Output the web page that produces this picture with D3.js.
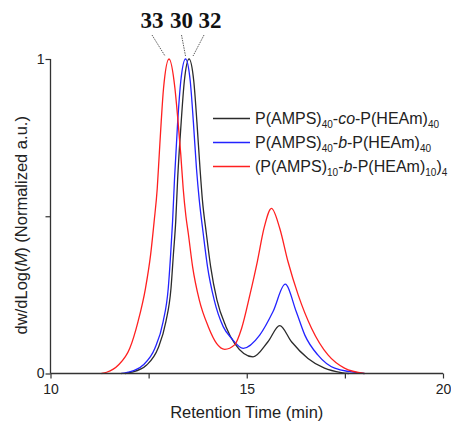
<!DOCTYPE html>
<html>
<head>
<meta charset="utf-8">
<script src="https://cdn.jsdelivr.net/npm/d3@7"></script>
<style>
  body { margin: 0; background: #fff; }
</style>
</head>
<body>
<script>
// retention time (min) and normalized dw/dLog(M)
var redT = [11.3, 11.43, 11.73, 12.02, 12.23, 12.42, 12.55, 12.64, 12.72, 12.77, 12.82, 12.88, 13.02, 13.17, 13.25, 13.32, 13.38, 13.45, 13.51, 13.62, 13.79, 14.02, 14.23, 14.44, 14.69, 14.87, 15.08, 15.27, 15.44, 15.63, 15.84, 16.05, 16.31, 16.65, 17.07, 17.49, 18.0];
var redV = [0, 0.004, 0.027, 0.08, 0.165, 0.271, 0.377, 0.483, 0.589, 0.695, 0.8, 0.907, 1, 0.907, 0.8, 0.695, 0.589, 0.5, 0.446, 0.34, 0.234, 0.149, 0.096, 0.077, 0.091, 0.144, 0.25, 0.356, 0.462, 0.525, 0.462, 0.356, 0.25, 0.144, 0.059, 0.017, 0];

var blueT = [11.8, 11.98, 12.36, 12.66, 12.87, 13.0, 13.06, 13.11, 13.16, 13.24, 13.32, 13.44, 13.56, 13.64, 13.72, 13.79, 13.89, 14.0, 14.17, 14.4, 14.61, 14.91, 15.33, 15.67, 15.98, 16.26, 16.48, 16.81, 17.24, 18.0];
var blueV = [0, 0.004, 0.027, 0.08, 0.165, 0.271, 0.377, 0.483, 0.62, 0.8, 0.93, 1, 0.93, 0.8, 0.65, 0.552, 0.446, 0.34, 0.234, 0.149, 0.112, 0.08, 0.122, 0.197, 0.284, 0.197, 0.122, 0.059, 0.017, 0];

var blackT = [11.9, 12.07, 12.45, 12.74, 12.94, 13.07, 13.13, 13.19, 13.24, 13.33, 13.41, 13.53, 13.65, 13.73, 13.81, 13.87, 13.97, 14.08, 14.24, 14.47, 14.69, 15.16, 15.54, 15.84, 16.14, 16.56, 16.98, 17.41, 17.6];
var blackV = [0, 0.004, 0.027, 0.08, 0.165, 0.271, 0.377, 0.483, 0.62, 0.8, 0.93, 1, 0.93, 0.8, 0.65, 0.552, 0.446, 0.34, 0.234, 0.149, 0.096, 0.053, 0.101, 0.152, 0.101, 0.048, 0.017, 0.003, 0];

var xTicks = [10, 12.5, 15, 17.5, 20];
var yTicks = [0, 0.5, 1];
var peakLabels = ["33", "30", "32"];

var width = 451, height = 423;
var x0 = 50.5, x1 = 443, y0 = 373.5, y1 = 59;
var sans = "Arial, 'Liberation Sans', sans-serif";

var svg = d3.select("body").append("svg")
    .attr("width", width)
    .attr("height", height);

var x = d3.scaleLinear().domain([10, 20]).range([x0, x1]);
var y = d3.scaleLinear().domain([0, 1]).range([y0, y1]);

var line = d3.line()
    .x(function(d){ return x(d[0]); })
    .y(function(d){ return y(d[1]); })
    .curve(d3.curveMonotoneX);

function zip(t, v){
    return t.map(function(d, i){ return [d, v[i]]; });
}

var series = [
    {name: "black", color: "#2b2b2b", data: zip(blackT, blackV)},
    {name: "blue", color: "#2323ff", data: zip(blueT, blueV)},
    {name: "red", color: "#ff2020", data: zip(redT, redV)}
];

series.forEach(function(s){
    svg.append("path")
        .attr("d", line(s.data))
        .attr("fill", "none")
        .attr("stroke", s.color)
        .attr("stroke-width", 1.3);
});

// axes
var xAxis = svg.append("g")
    .attr("transform", "translate(0," + y0 + ")")
    .call(d3.axisBottom(x).tickValues(xTicks).tickSize(5)
        .tickFormat(function(d){ return d % 5 === 0 ? d : ""; }));
var yAxis = svg.append("g")
    .attr("transform", "translate(" + x0 + ",0)")
    .call(d3.axisLeft(y).tickValues(yTicks).tickSize(5)
        .tickFormat(function(d){ return d === 0.5 ? "" : d; }));

[xAxis, yAxis].forEach(function(a){
    a.select(".domain").attr("stroke", "#333").attr("stroke-width", 1.3);
    a.selectAll(".tick line").attr("stroke", "#333").attr("stroke-width", 1.2);
    a.selectAll(".tick text")
        .attr("font-size", 14)
        .attr("fill", "#222")
        .style("font-family", sans);
});
xAxis.select(".domain").attr("d", "M" + x0 + ",0H" + x1);
yAxis.select(".domain").attr("d", "M0," + y0 + "V" + y1);
xAxis.selectAll(".tick text").attr("dy", "0.9em");
yAxis.selectAll(".tick text").attr("x", -6);

svg.append("text")
    .attr("x", (x0 + x1) / 2)
    .attr("y", 418)
    .attr("text-anchor", "middle")
    .attr("font-size", 16.5)
    .attr("fill", "#222")
    .style("font-family", sans)
    .text("Retention Time (min)");

var yl = svg.append("text")
    .attr("transform", "translate(27," + ((y0 + y1) / 2 + 9) + ") rotate(-90)")
    .attr("text-anchor", "middle")
    .attr("font-size", 16.5)
    .attr("fill", "#222")
    .style("font-family", sans);
yl.append("tspan").text("dw/dLog(");
yl.append("tspan").style("font-style", "italic").text("M");
yl.append("tspan").text(") (Normalized a.u.)");

// legend
var legend = [
    {color: "#2b2b2b", parts: [["P(AMPS)"], ["40", "sub"], ["-"], ["co", "i"], ["-P(HEAm)"], ["40", "sub"]]},
    {color: "#2323ff", parts: [["P(AMPS)"], ["40", "sub"], ["-"], ["b", "i"], ["-P(HEAm)"], ["40", "sub"]]},
    {color: "#ff2020", parts: [["(P(AMPS)"], ["10", "sub"], ["-"], ["b", "i"], ["-P(HEAm)"], ["10", "sub"], [")"], ["4", "sub"]]}
];
legend.forEach(function(l, i){
    var ly = 118.5 + i * 24;
    svg.append("line")
        .attr("x1", 213).attr("x2", 250)
        .attr("y1", ly).attr("y2", ly)
        .attr("stroke", l.color)
        .attr("stroke-width", 1.3);
    var t = svg.append("text")
        .attr("x", 255)
        .attr("y", ly + 5.5)
        .attr("font-size", 16)
        .attr("fill", "#222")
        .style("font-family", sans);
    var sub = false;
    l.parts.forEach(function(p){
        var ts = t.append("tspan").text(p[0]);
        if (p[1] === "sub") {
            ts.attr("font-size", 10).attr("dy", sub ? 0 : 4);
            sub = true;
        } else {
            if (sub) ts.attr("dy", -4);
            sub = false;
            if (p[1] === "i") ts.style("font-style", "italic");
        }
    });
});

// peak labels with dashed leaders
var peaks = [
    {t: redT[redV.indexOf(1)], lx: 152, text: peakLabels[0]},
    {t: blueT[blueV.indexOf(1)], lx: 181.5, text: peakLabels[1]},
    {t: blackT[blackV.indexOf(1)], lx: 210, text: peakLabels[2]}
];
peaks.forEach(function(p, i){
    svg.append("text")
        .attr("x", p.lx)
        .attr("y", 28)
        .attr("text-anchor", "middle")
        .attr("font-weight", "bold")
        .attr("font-size", 23)
        .attr("fill", "#111")
        .style("font-family", "'Liberation Serif', 'DejaVu Serif', serif")
        .text(p.text);
    var dx = i === 0 ? -4 : (i === 2 ? 4 : 0);
    svg.append("line")
        .attr("x1", p.lx + (i === 2 ? -6 : 0))
        .attr("y1", 35)
        .attr("x2", x(p.t) + dx)
        .attr("y2", 56)
        .attr("stroke", "#333")
        .attr("stroke-width", 0.8)
        .attr("stroke-dasharray", "1.5,1");
});
</script>
</body>
</html>
